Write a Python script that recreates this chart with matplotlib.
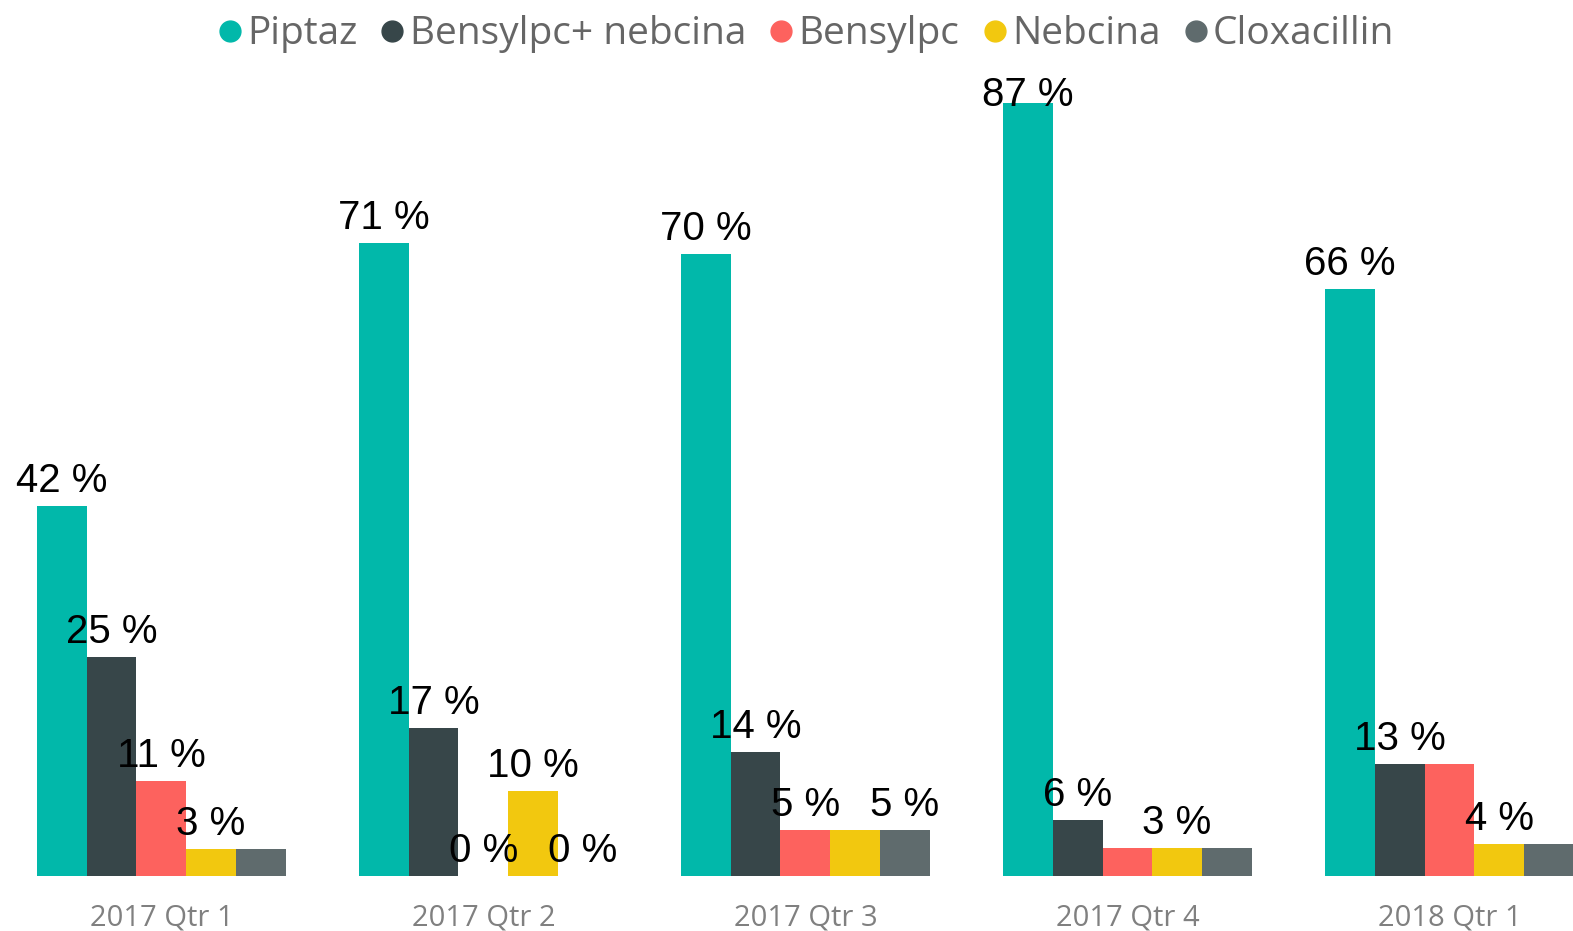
import numpy as np
import matplotlib
matplotlib.use('Agg')
import matplotlib.pyplot as plt
from matplotlib.lines import Line2D

quarters = ['2017 Qtr 1', '2017 Qtr 2', '2017 Qtr 3', '2017 Qtr 4', '2018 Qtr 1']
series = ['Piptaz', 'Bensylpc+ nebcina', 'Bensylpc', 'Nebcina', 'Cloxacillin']
colors = ['#01B8AA', '#374649', '#FD625E', '#F2C80F', '#5F6B6D']

piptaz      = [41.6, 71.2, 70.0, 87.0, 66.0]
bens_nebc   = [24.6, 16.6, 14.0, 6.3, 12.6]
bensylpc    = [10.7, 0.0, 5.2, 3.1, 12.6]
nebcina     = [3.0, 9.6, 5.2, 3.1, 3.6]
cloxacillin = [3.0, 0.0, 5.2, 3.1, 3.6]
values = [piptaz, bens_nebc, bensylpc, nebcina, cloxacillin]

# which data labels power bi kept (overlapping ones get dropped)
show_label = [
    [1, 1, 1, 1, 1],
    [1, 1, 1, 1, 1],
    [1, 1, 1, 0, 0],
    [1, 1, 0, 1, 1],
    [0, 1, 1, 0, 0],
]

W, H = 1573, 931
fig = plt.figure(figsize=(W / 100, H / 100), dpi=100)
ax = fig.add_axes([0, 55 / H, 1, (876 - 78) / H])

bw = 0.1543
x = np.arange(len(quarters))
for i, (name, vals, c) in enumerate(zip(series, values, colors)):
    xs = x - 2.5 * bw + (i + 0.5) * bw
    ax.bar(xs, vals, width=bw, color=c, label=name, zorder=1)

ax.set_xlim(-0.501, 4.384)
ax.set_ylim(0, 89.8)

# data labels, baseline 14px above bar top, clamped to stay inside plot
px_per_unit = (876 - 78) / 89.8
gap = 14 / px_per_unit
cap = 28 / px_per_unit
for i, vals in enumerate(values):
    xs = x - 2.5 * bw + (i + 0.5) * bw
    for j, v in enumerate(vals):
        if not show_label[i][j]:
            continue
        yl = min(v + gap, 89.8 - cap)
        ax.text(xs[j], yl, f'{v:.0f} %', ha='center', va='baseline',
                fontsize=29, family='Liberation Sans', color='black', zorder=3)

for s in ax.spines.values():
    s.set_visible(False)
ax.set_yticks([])
ax.set_xticks(x)
ax.set_xticklabels(quarters, family='Open Sans', fontsize=21, color='#808080')
ax.tick_params(axis='x', length=0, pad=20)

handles = [Line2D([], [], marker='o', ls='None', color=c, markersize=15) for c in colors]
fig.legend(handles, series, loc='upper center', bbox_to_anchor=(0.5125, 1.021), ncol=5,
           frameon=False, handlelength=0.6, handletextpad=0.15, columnspacing=0.6,
           prop={'family': 'Open Sans', 'size': 28}, labelcolor='#666666')

fig.savefig('out.png', dpi=100)
